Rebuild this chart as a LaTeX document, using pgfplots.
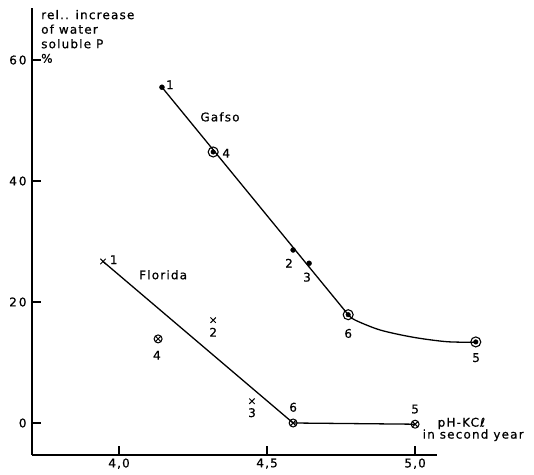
\documentclass[border=0pt]{standalone}
\usepackage{fontspec}
\setmainfont{DejaVu Sans}[LetterSpace=10, FakeBold=0.7]
\usepackage{pgfplots}
\pgfplotsset{compat=1.18}
\usetikzlibrary{plotmarks}
\begin{document}
\begin{tikzpicture}
\begin{axis}[
  at={(0,0)}, anchor=south west,
  scale only axis, width=405bp, height=447bp,
  xmin=3.706, xmax=5.074, ymin=-5.29, ymax=68.6,
  axis lines*=left,
  axis line style={line width=1.4pt},
  tick align=inside, major tick length=9bp,
  tick style={line width=1.2pt, black},
  xtick={4,4.5,5}, xticklabels={{4,0},{4,5},{5,0}},
  ytick={0,20,40,60},
  yticklabels={0,{2\hspace{2bp}0},{4\hspace{2bp}0},{6\hspace{2bp}0}},
  clip=false,
  font=\fontsize{12}{13}\selectfont,
  ticklabel style={font=\fontsize{12}{13}\selectfont},
  yticklabel style={xshift=-2bp},
]
% Gafsa lines
\addplot[black, line width=1.3pt] coordinates {(4.145,55.5) (4.774,17.9)};
\addplot[black, line width=1.3pt, smooth, tension=0.5] coordinates {(4.774,17.9) (4.797,17.02) (4.882,15.37) (4.994,14.17) (5.107,13.44) (5.205,13.35)};
% Gafsa points
\addplot[only marks, mark=*, mark size=2.5bp] coordinates {(4.145,55.5) (4.588,28.6) (4.642,26.4)};
\addplot[only marks, mark=o, mark size=5bp, mark options={line width=1.1pt, fill=white}] coordinates {(4.318,44.8) (4.774,17.9) (5.205,13.4)};
\addplot[only marks, mark=*, mark size=2.3bp] coordinates {(4.318,44.8) (4.774,17.9) (5.205,13.4)};
% Florida line
\addplot[black, line width=1.3pt] coordinates {(3.946,26.7) (4.588,0) (5.0,-0.2)};
% Florida points
\addplot[only marks, mark=x, mark size=3.8bp, mark options={line width=1pt}] coordinates {(3.946,26.7) (4.318,17.0) (4.449,3.6)};
\addplot[only marks, mark=otimes, mark size=4bp, mark options={line width=1pt, fill=white}] coordinates {(4.132,13.9) (4.588,0) (5.0,-0.2)};
% labels
\node at (axis cs:4.341,50.6) {Gafso};
\node at (axis cs:4.149,24.5) {Florida};
\node at (axis cs:4.172,55.9) {1};
\node at (axis cs:4.362,44.6) {4};
\node at (axis cs:4.574,26.4) {2};
\node at (axis cs:4.635,24.1) {3};
\node at (axis cs:4.774,14.8) {6};
\node at (axis cs:5.206,10.8) {5};
\node at (axis cs:3.982,27.0) {1};
\node at (axis cs:4.318,15.0) {2};
\node at (axis cs:4.128,11.2) {4};
\node at (axis cs:4.449,1.7) {3};
\node at (axis cs:4.588,2.6) {6};
\node at (axis cs:5.0,2.3) {5};
\node[anchor=north west, align=left, inner sep=0pt, font=\fontsize{12}{14.6}\selectfont] at (axis cs:3.7365,68.3) {rel.. increase\\of water\\soluble P\\\%};
\node[anchor=north west, align=left, inner sep=0pt, font=\fontsize{12}{12}\selectfont] at (axis cs:5.025,0.9) {\hspace{15bp}pH-KCℓ\\in second year};
\end{axis}
\pgfresetboundingbox
\path (-32bp,-20bp) rectangle (502bp,455bp);
\end{tikzpicture}
\end{document}
